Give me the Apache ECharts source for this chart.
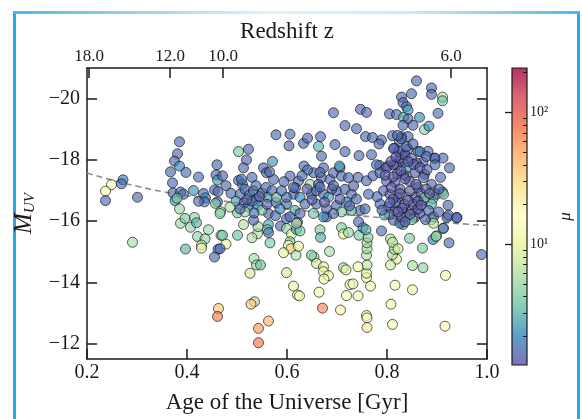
<!DOCTYPE html>
<html>
<head>
<meta charset="utf-8">
<script src="https://cdn.jsdelivr.net/npm/echarts@6/dist/echarts.min.js"></script>
<style>
html,body{margin:0;padding:0;background:#fff;}
#frame{position:absolute;left:13px;top:11px;width:561px;height:420px;border-left:3px solid #2aa8e4;border-right:3px solid #2aa8e4;}
#frameTop{position:absolute;left:13px;top:11px;width:567px;height:3px;background:linear-gradient(to right,#4fb6ea,#e3f1fa 45%,#cfe8f8 70%,#4fb6ea);}
#chart{position:absolute;left:0;top:0;width:582px;height:419px;}
</style>
</head>
<body>
<div id="frame"></div>
<div id="frameTop"></div>
<div id="chart"></div>
<script>
// galaxies: [age of the universe (Gyr), M_UV, magnification mu]
var galaxiesEarly = [
  [0.385,-18.59,1.5],[0.381,-18.20,1.5],[0.375,-17.96,1.5],[0.385,-17.80,2.0],[0.367,-17.61,1.5],
  [0.398,-17.59,1.5],[0.423,-17.44,1.6],[0.371,-17.25,1.5],[0.272,-17.35,1.8],[0.269,-17.22,1.6],
  [0.249,-17.19,14],[0.237,-16.98,13],[0.237,-16.67,1.5],[0.301,-16.78,1.5],[0.372,-16.92,1.5],
  [0.387,-16.95,1.6],[0.393,-16.88,1.5],[0.413,-17.00,2.2],[0.376,-16.67,2.3],[0.380,-16.75,4],
  [0.385,-16.40,5],[0.433,-16.90,1.5],[0.437,-16.76,2.0],[0.435,-16.63,1.6],[0.423,-16.65,1.5],
  [0.460,-17.84,1.5],[0.458,-17.51,1.5],[0.461,-17.34,2.4],[0.455,-17.02,1.5],[0.462,-16.97,1.5],
  [0.461,-16.63,1.5],[0.457,-16.58,4],[0.467,-16.31,4.5],[0.291,-15.31,5.5],[0.387,-15.93,5],
  [0.407,-15.80,5],[0.415,-16.12,5],[0.419,-15.95,3],[0.443,-15.72,5],[0.421,-15.50,4.5],
  [0.436,-15.42,5],[0.429,-15.22,6],[0.429,-15.12,11],[0.397,-15.09,3],[0.462,-15.08,1.5],
  [0.455,-14.83,1.5],[0.463,-13.15,35],[0.461,-12.89,70],[0.466,-16.25,4.5],[0.468,-15.54,4],
  [0.396,-16.09,4],[0.501,-16.27,4],[0.541,-15.59,6],[0.563,-16.25,1.5]
];
var galaxiesMidFaint = [
  [0.513,-15.89,6],[0.501,-15.54,3.5],[0.530,-15.46,6],[0.478,-15.25,9],[0.471,-15.54,4],
  [0.466,-15.10,1.5],[0.542,-15.82,5.5],[0.533,-16.03,1.5],[0.563,-15.89,2.5],[0.561,-15.72,4],
  [0.563,-15.63,1.6],[0.566,-15.29,4],[0.577,-16.18,1.5],[0.587,-15.84,1.5],[0.599,-16.08,1.6],
  [0.599,-15.76,5],[0.609,-15.58,11],[0.606,-15.33,4],[0.603,-15.21,16],[0.608,-15.10,28],
  [0.593,-14.97,9],[0.618,-14.89,6],[0.623,-15.18,12],[0.619,-15.73,2.5],[0.626,-15.68,4],
  [0.621,-15.97,1.3],[0.534,-14.78,5.5],[0.539,-14.57,5],[0.547,-14.57,3.5],[0.526,-14.30,8],
  [0.599,-14.32,8],[0.535,-13.37,6],[0.528,-13.29,35],[0.563,-12.74,45],[0.543,-12.50,55],
  [0.543,-12.03,75],[0.613,-13.88,11],[0.621,-13.59,13],[0.625,-13.56,15],[0.664,-13.68,12],
  [0.671,-13.16,65],[0.707,-13.10,20],[0.719,-13.57,13],[0.726,-13.93,12],[0.654,-14.83,6],
  [0.659,-14.62,8],[0.673,-14.51,10],[0.673,-14.35,11],[0.683,-14.22,12],[0.674,-14.11,12],
  [0.649,-14.89,4],[0.685,-15.01,5.5],[0.713,-14.48,5.5],[0.718,-14.41,11],[0.666,-15.72,4],
  [0.667,-15.47,2.8],[0.679,-16.14,1.5],[0.709,-15.79,4],[0.713,-15.58,10],[0.723,-15.63,5]
];
var galaxiesLateFaint = [
  [0.989,-14.91,1.5],[0.917,-14.23,13],[0.916,-12.57,18],[0.811,-12.63,13],[0.808,-13.29,13],
  [0.816,-13.91,13],[0.851,-13.76,12],[0.851,-14.55,5.5],[0.872,-14.48,4.5],[0.871,-15.12,4],
  [0.845,-15.44,4],[0.819,-14.76,12],[0.807,-14.57,8],[0.811,-14.91,6],[0.815,-15.08,6],
  [0.807,-15.42,6],[0.811,-15.31,7],[0.822,-15.10,8],[0.759,-14.16,12],[0.759,-14.30,9],
  [0.760,-14.57,7],[0.759,-14.89,6],[0.760,-15.10,6],[0.760,-15.29,5],[0.762,-15.47,4.5],
  [0.744,-15.54,4],[0.752,-15.79,2.2],[0.767,-13.88,13],[0.742,-13.56,14],[0.742,-14.51,12],
  [0.732,-13.95,13],[0.759,-12.92,13],[0.760,-12.84,16],[0.760,-12.53,22],[0.789,-15.68,1.5],
  [0.832,-15.89,2.5],[0.892,-15.40,1.8],[0.899,-15.52,6],[0.912,-15.76,4],[0.924,-15.29,1.5],
  [0.889,-16.05,5],[0.920,-16.12,1.5],[0.940,-16.12,1.5]
];
var galaxiesLateBright = [
  [0.859,-20.58,1.5],[0.889,-20.35,1.5],[0.889,-20.14,1.5],[0.911,-20.05,6],[0.911,-19.93,3.5],
  [0.849,-20.16,1.6],[0.829,-20.05,1.5],[0.832,-19.87,1.5],[0.839,-19.74,1.5],[0.842,-19.63,2.5],
  [0.747,-19.65,1.5],[0.759,-19.55,1.5],[0.805,-19.50,1.5],[0.819,-19.48,1.6],[0.833,-19.39,3],
  [0.842,-19.34,1.5],[0.865,-19.39,2],[0.902,-19.52,1.5],[0.852,-19.13,1.5],[0.832,-19.13,1.5],
  [0.875,-18.99,4.5],[0.884,-19.10,2],[0.739,-19.02,1.5],[0.757,-18.76,1.5],[0.771,-18.73,1.6],
  [0.789,-18.65,1.5],[0.784,-18.52,1.5],[0.811,-18.79,1.5],[0.829,-18.76,1.5],[0.842,-18.76,1.5],
  [0.825,-18.60,1.6],[0.815,-18.38,1.5],[0.842,-18.35,1.5],[0.744,-18.14,1.5],[0.769,-18.17,1.5],
  [0.829,-18.17,1.3],[0.832,-17.90,1.3],[0.819,-17.85,1.5],[0.862,-18.28,2],[0.882,-18.28,1.5],
  [0.895,-18.06,1.5],[0.912,-18.06,1.5],[0.925,-17.74,1.5],[0.872,-17.93,1.5],[0.859,-17.90,1.5],
  [0.785,-17.82,1.5],[0.802,-17.80,1.5],[0.875,-17.53,1.5],[0.839,-17.48,5],[0.907,-17.43,1.5],
  [0.892,-16.95,5.5],[0.892,-16.74,3.5],[0.911,-16.95,1.5],[0.922,-16.52,1.5],[0.742,-17.43,1.5],
  [0.759,-17.32,1.5],[0.772,-17.48,1.5]
];
var galaxiesLateCore = [
  [0.779,-17.84,1.5],[0.786,-17.58,1.5],[0.799,-17.74,1.4],[0.813,-17.84,1.3],[0.826,-18.05,1.3],
  [0.823,-18.27,1.4],[0.836,-18.16,1.3],[0.839,-18.43,1.5],[0.829,-18.69,1.5],[0.821,-18.80,1.5],
  [0.813,-18.37,1.4],[0.849,-18.05,1.4],[0.866,-18.27,1.5],[0.879,-18.11,1.5],[0.896,-18.05,1.5],
  [0.896,-17.84,1.5],[0.799,-17.31,1.4],[0.816,-17.26,1.3],[0.833,-17.52,1.3],[0.839,-17.74,2.5],
  [0.856,-17.58,1.4],[0.873,-17.42,1.5],[0.889,-17.20,1.5],[0.899,-16.88,1.5],[0.913,-16.88,4],
  [0.793,-16.99,1.4],[0.806,-16.88,1.3],[0.823,-16.78,1.3],[0.839,-16.78,5],[0.856,-16.78,1.3],
  [0.873,-16.67,1.5],[0.889,-16.56,3],[0.786,-16.56,1.5],[0.803,-16.46,1.4],[0.816,-16.35,1.3],
  [0.833,-16.30,1.3],[0.849,-16.35,1.3],[0.866,-16.25,1.4],[0.883,-16.35,1.5],[0.893,-16.14,1.5],
  [0.813,-16.03,1.4],[0.826,-15.93,1.6],[0.839,-16.14,3.5],[0.923,-16.19,1.5],[0.939,-16.11,1.5],
  [0.893,-15.93,6],[0.913,-15.77,1.5],[0.898,-15.50,4],[0.809,-17.10,1.3],[0.826,-17.05,1.3],
  [0.846,-16.98,1.3],[0.862,-17.10,1.4],[0.818,-16.60,1.3],[0.835,-16.55,1.3],[0.852,-16.55,1.3],
  [0.868,-16.90,1.4],[0.805,-16.22,1.4],[0.828,-16.15,1.3],[0.855,-16.12,1.4],[0.877,-16.05,1.5],
  [0.845,-17.30,1.3],[0.862,-16.40,1.3],[0.820,-17.55,1.3],[0.853,-17.85,1.4],[0.876,-16.78,4],
  [0.850,-16.05,4],[0.780,-16.80,1.5],[0.795,-16.20,3],[0.808,-17.95,1.3],[0.818,-18.10,1.3],
  [0.842,-17.95,1.3],[0.828,-17.65,1.3],[0.812,-17.45,1.3],[0.836,-17.38,1.3],[0.858,-17.20,1.3],
  [0.826,-16.90,1.3],[0.842,-16.68,1.3],[0.812,-16.72,1.3],[0.830,-16.42,1.3],[0.846,-16.22,1.3],
  [0.862,-16.65,1.3],[0.878,-17.05,1.4],[0.796,-17.50,1.3],[0.852,-18.52,1.4],[0.866,-17.75,1.3],
  [0.880,-17.68,1.4],[0.806,-16.60,1.4],[0.822,-16.30,1.3],[0.868,-16.52,1.3],[0.836,-15.98,1.4],
  [0.790,-16.36,1.5],[0.903,-16.30,1.5],[0.904,-17.05,1.4],[0.885,-16.90,1.4]
];
var galaxiesMidCore = [
  [0.606,-17.47,1.5],[0.623,-17.31,1.5],[0.646,-17.20,5],[0.653,-17.58,1.5],[0.673,-17.74,1.5],
  [0.669,-17.42,1.5],[0.686,-17.36,1.5],[0.693,-17.58,1.5],[0.706,-17.74,1.5],[0.709,-17.47,1.5],
  [0.723,-17.42,1.5],[0.613,-16.88,1.5],[0.626,-16.78,2],[0.649,-16.88,1.5],[0.659,-16.99,1.5],
  [0.673,-16.88,1.5],[0.683,-16.78,2.5],[0.699,-16.99,1.5],[0.716,-17.04,1.5],[0.729,-16.88,1.5],
  [0.599,-16.56,1.5],[0.616,-16.35,3],[0.636,-16.56,1.5],[0.659,-16.56,1.5],[0.679,-16.40,1.5],
  [0.699,-16.51,1.5],[0.719,-16.62,2],[0.739,-16.72,1.5],[0.746,-16.35,1.5],[0.729,-16.35,3],
  [0.709,-16.30,4],[0.693,-16.25,1.5],[0.673,-16.14,2],[0.653,-16.25,3.5],[0.626,-16.25,1.5],
  [0.606,-16.14,1.5],[0.619,-15.93,6],[0.743,-15.98,1.5],[0.758,-15.72,3],[0.756,-16.40,1.5],
  [0.763,-16.88,1.5],[0.640,-17.05,1.3],[0.663,-17.20,1.3],[0.690,-17.05,1.3],[0.706,-16.72,1.3],
  [0.650,-16.70,1.4],[0.675,-16.62,1.3],[0.733,-17.15,1.4],[0.617,-17.08,1.4],[0.725,-16.50,1.4]
];
var galaxiesMidBright = [
  [0.503,-18.27,4],[0.523,-18.35,1.5],[0.519,-18.00,1.5],[0.513,-17.74,1.5],[0.503,-17.33,1.5],
  [0.511,-17.20,2],[0.506,-16.88,1.5],[0.516,-17.04,1.5],[0.525,-16.86,1.7],[0.533,-16.99,1.5],
  [0.539,-16.72,2],[0.553,-17.74,1.5],[0.559,-17.58,1.5],[0.571,-17.95,2.2],[0.573,-17.36,1.5],
  [0.530,-17.43,1.5],[0.538,-17.16,1.6],[0.478,-17.16,1.5],[0.488,-16.91,1.6],[0.498,-16.65,2.5],
  [0.514,-16.59,1.5],[0.522,-16.46,1.8],[0.530,-16.65,1.5],[0.542,-16.52,2],[0.550,-16.91,1.6],
  [0.558,-17.10,1.5],[0.562,-16.78,2.3],[0.570,-17.00,1.5],[0.578,-16.62,1.5],[0.550,-16.36,4],
  [0.534,-16.27,1.6],[0.516,-16.30,5],[0.506,-16.40,1.5],[0.486,-16.46,6],[0.579,-16.78,4],
  [0.586,-16.40,2],[0.594,-17.29,1.5],[0.599,-16.78,1.6],[0.613,-17.10,1.5],[0.589,-16.99,1.6],
  [0.578,-18.82,1.5],[0.606,-18.84,1.5],[0.604,-18.46,1.5],[0.633,-18.54,1.5],[0.641,-18.71,1.5],
  [0.667,-18.76,1.5],[0.663,-18.44,3],[0.696,-18.50,1.5],[0.716,-18.27,1.5],[0.669,-18.12,1.5],
  [0.693,-19.54,1.5],[0.716,-19.12,1.5],[0.565,-17.61,1.5],[0.509,-17.37,1.5],[0.471,-17.48,1.5],
  [0.634,-17.80,1.5],[0.641,-17.67,1.6],[0.630,-17.48,1.5],[0.666,-17.59,1.5],[0.705,-17.80,2.5],
  [0.666,-17.11,1.5],[0.693,-17.16,1.5],[0.545,-16.80,1.3],[0.520,-16.70,1.3],[0.560,-16.55,1.4]
];

// dashed reference curve
var curveAge = [0.2, 0.3, 0.4, 0.5, 0.6, 0.7, 0.8, 0.9, 1.0];
var curveMuv = [-17.57, -17.14, -16.83, -16.60, -16.40, -16.24, -16.10, -15.97, -15.86];

// axis ticks
var magTicks = [-20, -18, -16, -14, -12];
var redshiftLabels = ['18.0', '12.0', '10.0', '6.0'];
var redshiftAges = [0.204, 0.366, 0.472, 0.928];
var muMin = 1.21, muMax = 217;
var muMajor = [10, 100];
var muMajorLabels = ['10\u00B9', '10\u00B2'];
var muMinor = [2, 3, 4, 5, 6, 7, 8, 9, 20, 30, 40, 50, 60, 70, 80, 90, 200];

var spectral = ['#5e4fa2','#3288bd','#66c2a5','#abdda4','#e6f598','#ffffbf','#fee08b','#fdae61','#f46d43','#d53e4f','#9e0142'];

function fade(hex, a) {
  var r = parseInt(hex.slice(1, 3), 16), g = parseInt(hex.slice(3, 5), 16), b = parseInt(hex.slice(5, 7), 16);
  return 'rgba(' + r + ',' + g + ',' + b + ',' + a + ')';
}

var pointColors = spectral.map(function (c) { return fade(c, 0.8); });
var barColors = spectral.map(function (c) { return fade(c, 0.8); });

var allGalaxies = [].concat(galaxiesEarly, galaxiesMidFaint, galaxiesLateFaint,
  galaxiesLateBright, galaxiesLateCore, galaxiesMidCore, galaxiesMidBright);
var scatterData = allGalaxies.map(function (g) { return [g[0], g[1], Math.log10(g[2])]; });
var curveData = curveAge.map(function (a, i) { return [a, curveMuv[i]]; });

var logMin = Math.log10(muMin), logMax = Math.log10(muMax);
var majorLog = muMajor.map(function (v) { return Math.log10(v); });
var minorLog = muMinor.map(function (v) { return Math.log10(v); });

var serif = '"Liberation Serif", "DejaVu Serif", serif';
var ink = '#1a1a1a';
var axisLine = { show: true, lineStyle: { color: ink, width: 1.5 } };

var myChart = echarts.init(document.getElementById('chart'));

var option = {
  animation: false,
  backgroundColor: 'transparent',
  grid: [
    { left: 87, top: 68, width: 400, height: 298 },
    { left: 512, top: 68, width: 15, height: 297 }
  ],
  visualMap: {
    show: false,
    type: 'continuous',
    seriesIndex: 1,
    dimension: 2,
    min: logMin,
    max: logMax,
    inRange: { color: pointColors }
  },
  xAxis: [
    {
      gridIndex: 0, type: 'value', position: 'bottom', min: 0.2, max: 1.0, interval: 0.2,
      axisLine: axisLine,
      axisTick: { inside: true, length: 10, lineStyle: { color: ink, width: 1.5 } },
      axisLabel: { color: ink, fontFamily: serif, fontSize: 20, margin: 4,
        formatter: function (v) { return v.toFixed(1); } },
      splitLine: { show: false },
      name: 'Age of the Universe [Gyr]', nameLocation: 'middle', nameGap: 32,
      nameTextStyle: { color: ink, fontFamily: serif, fontSize: 23 }
    },
    {
      gridIndex: 0, type: 'value', position: 'top', min: 0.2, max: 1.0,
      axisLine: axisLine,
      axisTick: { inside: true, length: 10, customValues: redshiftAges, lineStyle: { color: ink, width: 1.5 } },
      axisLabel: { color: ink, fontFamily: serif, fontSize: 17, margin: 3, customValues: redshiftAges,
        formatter: function (v) {
          var i = redshiftAges.indexOf(v);
          return i >= 0 ? redshiftLabels[i] : '';
        } },
      splitLine: { show: false },
      name: 'Redshift z', nameLocation: 'middle', nameGap: 23,
      nameTextStyle: { color: ink, fontFamily: serif, fontSize: 23 }
    },
    { gridIndex: 1, type: 'value', min: 0, max: 1, show: false }
  ],
  yAxis: [
    {
      gridIndex: 0, type: 'value', inverse: true, min: -21, max: -11.5, position: 'left',
      axisLine: axisLine,
      axisTick: { inside: true, length: 10, customValues: magTicks, lineStyle: { color: ink, width: 1.5 } },
      axisLabel: { color: ink, fontFamily: serif, fontSize: 20, margin: 7, customValues: magTicks,
        formatter: function (v) { return '\u2212' + Math.abs(v); } },
      splitLine: { show: false },
      name: '{m|M}{s|UV}', nameLocation: 'middle', nameGap: 42, nameRotate: 90,
      nameTextStyle: {
        rich: {
          m: { fontFamily: serif, fontStyle: 'italic', fontSize: 25, color: ink },
          s: { fontFamily: serif, fontStyle: 'italic', fontSize: 15, color: ink, padding: [12, 0, 0, 0] }
        }
      }
    },
    {
      gridIndex: 0, type: 'value', inverse: true, min: -21, max: -11.5, position: 'right',
      axisLine: axisLine,
      axisTick: { inside: true, length: 10, customValues: magTicks, lineStyle: { color: ink, width: 1.5 } },
      axisLabel: { show: false },
      splitLine: { show: false }
    },
    {
      gridIndex: 1, type: 'value', min: logMin, max: logMax, position: 'right', z: 10,
      axisLine: { show: false },
      axisTick: { inside: true, length: 7, customValues: majorLog, lineStyle: { color: ink, width: 1.3 } },
      axisLabel: { color: ink, fontFamily: serif, fontSize: 14, margin: 3, customValues: majorLog,
        formatter: function (v) {
          for (var i = 0; i < majorLog.length; i++) {
            if (Math.abs(majorLog[i] - v) < 1e-6) return muMajorLabels[i];
          }
          return '';
        } },
      splitLine: { show: false },
      name: '\u03BC', nameLocation: 'middle', nameGap: 30, nameRotate: 90,
      nameTextStyle: { color: ink, fontFamily: serif, fontStyle: 'italic', fontSize: 17 }
    },
    {
      gridIndex: 1, type: 'value', min: logMin, max: logMax, position: 'right', z: 10,
      axisLine: { show: false },
      axisTick: { inside: true, length: 4, customValues: minorLog, lineStyle: { color: ink, width: 1 } },
      axisLabel: { show: false },
      splitLine: { show: false }
    }
  ],
  series: [
    {
      name: 'fit',
      type: 'line',
      xAxisIndex: 0, yAxisIndex: 0,
      data: curveData,
      smooth: true,
      symbol: 'none',
      z: 1,
      lineStyle: { color: '#8c8c8c', width: 1.6, type: [6, 4] }
    },
    {
      name: 'galaxies',
      type: 'scatter',
      xAxisIndex: 0, yAxisIndex: 0,
      data: scatterData,
      symbolSize: 10,
      z: 3,
      itemStyle: { borderColor: 'rgba(10,10,10,0.8)', borderWidth: 1 }
    },
    {
      name: 'colorbar',
      type: 'custom',
      xAxisIndex: 2, yAxisIndex: 2,
      data: [[0, logMin]],
      silent: true,
      clip: false,
      z: 2,
      renderItem: function (params, api) {
        var p0 = api.coord([0, logMin]);
        var p1 = api.coord([1, logMax]);
        var stops = barColors.map(function (c, i) { return { offset: i / (barColors.length - 1), color: c }; });
        return {
          type: 'rect',
          shape: { x: p0[0], y: p1[1], width: p1[0] - p0[0], height: p0[1] - p1[1] },
          style: { fill: new echarts.graphic.LinearGradient(0, 1, 0, 0, stops), stroke: ink, lineWidth: 1.2 }
        };
      }
    }
  ]
};

myChart.setOption(option);
</script>
</body>
</html>
